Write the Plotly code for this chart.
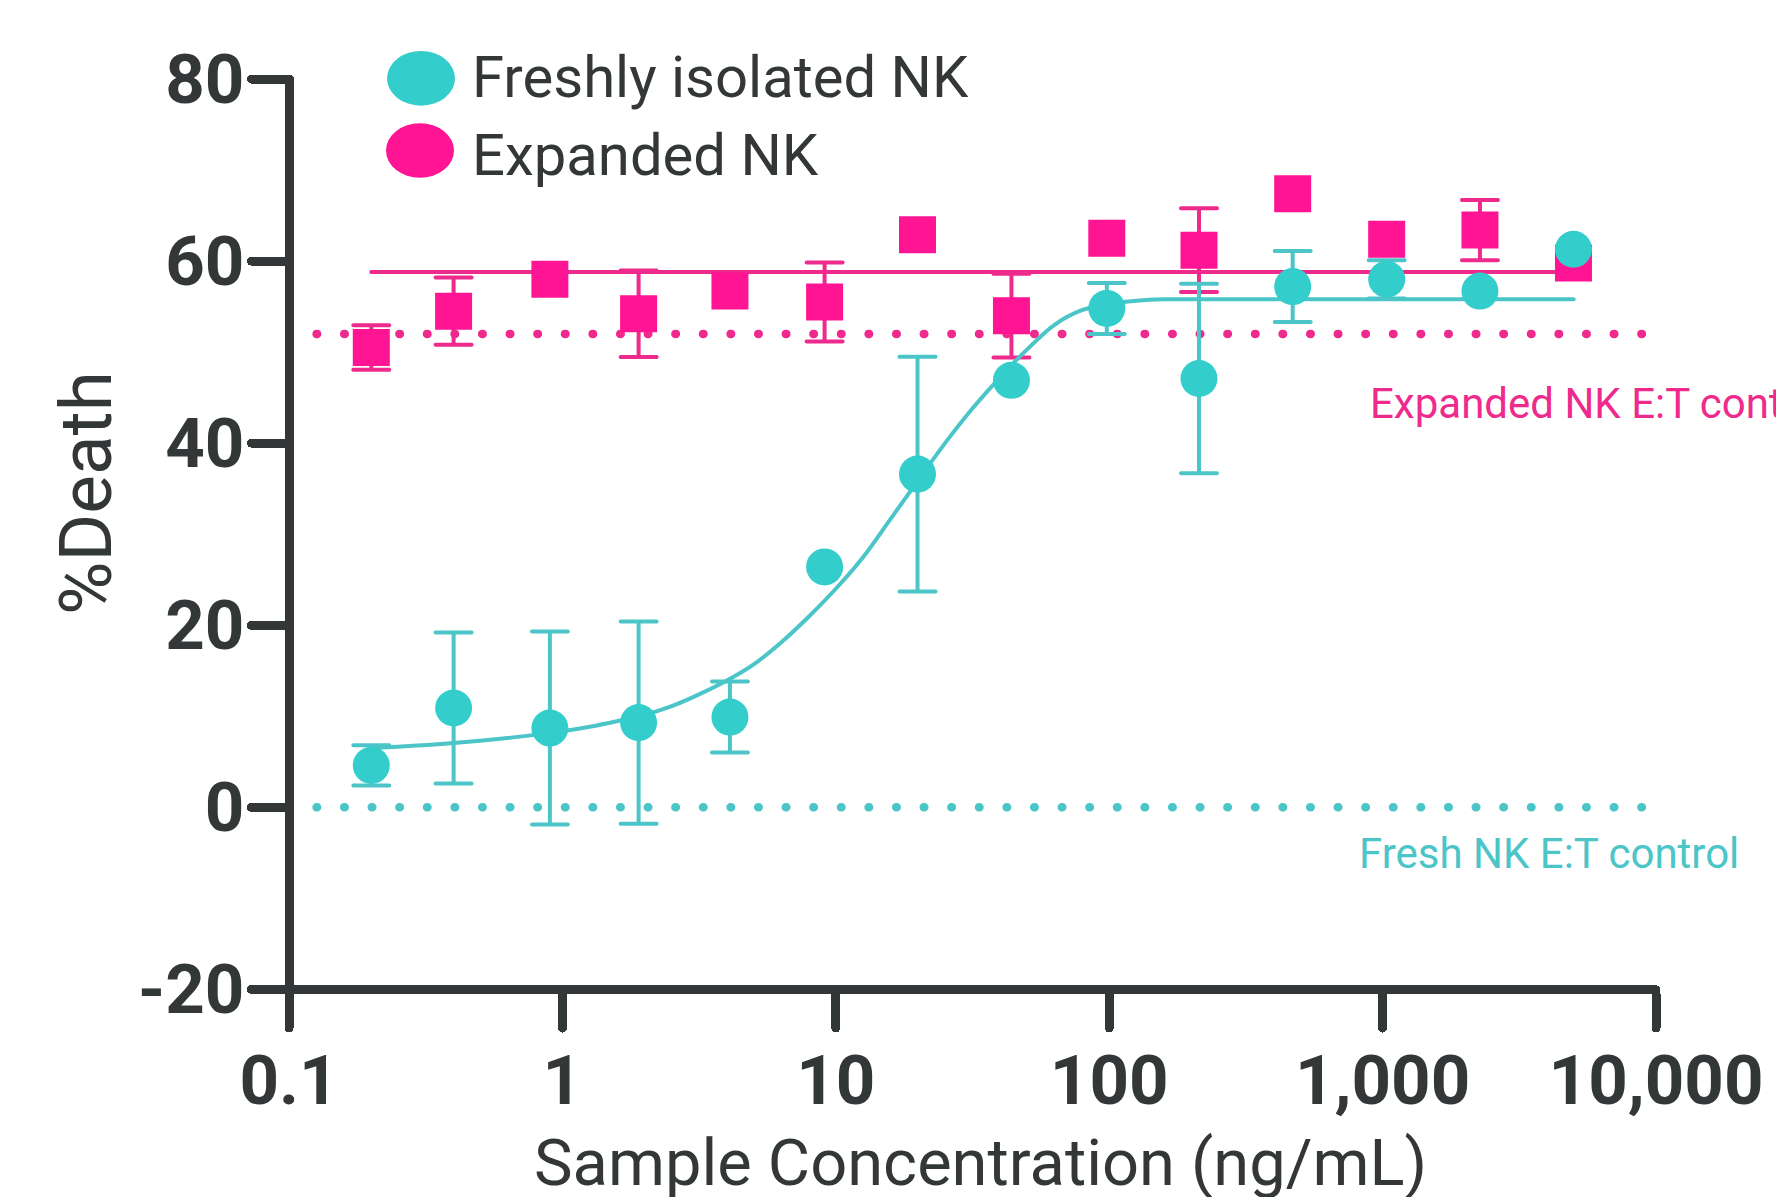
import plotly.graph_objects as go

W, H = 1776, 1197

# ---------------- data ----------------
conc = [0.2, 0.4, 0.9, 1.9, 4.1, 9.1, 19.9, 43.9, 98, 213, 469, 1035, 2270, 4990]

fresh_y = [4.6, 10.9, 8.7, 9.3, 9.9, 26.4, 36.6, 46.9, 54.8, 47.1, 57.2, 58.0, 56.7, 61.3]
fresh_err = [2.2, 8.3, 10.6, 11.1, 3.9, None, 12.9, None, 2.8, 10.4, 3.9, 2.1, None, None]

exp_y = [50.5, 54.5, 58.0, 54.2, 56.7, 55.5, 62.9, 54.0, 62.5, 61.2, 67.4, 62.4, 63.4, 59.8]
exp_err = [2.45, 3.7, None, 4.75, None, 4.35, None, 4.6, None, 4.6, None, None, 3.3, None]

# fitted curve of freshly isolated NK
fresh_fit_x = [0.2, 0.25, 0.32, 0.4, 0.5, 0.63, 0.79, 1, 1.26, 1.58, 2, 2.51, 3.16,
               3.98, 5.01, 6.31, 7.94, 10, 12.6, 15.8, 20, 25.1, 31.6, 39.8, 50.1,
               63.1, 79.4, 100, 126, 158, 251, 5000]
fresh_fit_y = [6.5, 6.65, 6.85, 7.05, 7.3, 7.6, 7.95, 8.35, 8.85, 9.45, 10.15, 11.1, 12.4,
               13.9, 15.7, 18.1, 20.9, 24.0, 27.5, 31.6, 35.9, 40.0, 43.8, 47.2, 50.3,
               53.0, 54.6, 55.3, 55.65, 55.8, 55.8, 55.8]

# fitted (flat) line of expanded NK
exp_fit_x = [0.2, 5000]
exp_fit_y = [58.8, 58.8]

# E:T control reference levels
ctrl_x = [0.1, 9000]
exp_ctrl = 52.0
fresh_ctrl = 0.0

x_tickvals = [0.1, 1, 10, 100, 1000, 10000]
x_ticktext = ["0.1", "1", "10", "100", "1,000", "10,000"]
y_tickvals = [-20, 0, 20, 40, 60, 80]
y_ticktext = ["-20", "0", "20", "40", "60", "80"]

series_names = ["Freshly isolated NK", "Expanded NK"]
ctrl_labels = ["Expanded NK E:T control", "Fresh NK E:T control"]

# ---------------- styles ----------------
DARK = "#333738"
CYAN_M = "#33CDCC"
CYAN_L = "#4BC5C8"
PINK_M = "#FF1493"
PINK_L = "#EE2A8C"
MS = 37
ERR_T = 4
ERR_W = 18
DOT = "0.5px,27.1px"
AXLW = 8.5
TICKLEN = 34

X_LEFT, X_RIGHT = 289, 1656   # pixel positions of 0.1 and 10,000
Y_BOT, Y_TOP = 989.3, 79      # pixel positions of -20 and 80


def with_err(xs, ys, errs):
    idx = [i for i, e in enumerate(errs) if e is not None]
    return [xs[i] for i in idx], [ys[i] for i in idx], [errs[i] for i in idx]


fig = go.Figure()

# control dotted lines
fig.add_trace(go.Scatter(x=ctrl_x, y=[exp_ctrl, exp_ctrl], mode="lines",
                         line=dict(color=PINK_L, width=8.5, dash=DOT), hoverinfo="skip"))
fig.add_trace(go.Scatter(x=ctrl_x, y=[fresh_ctrl, fresh_ctrl], mode="lines",
                         line=dict(color=CYAN_L, width=8.5, dash=DOT), hoverinfo="skip"))

# expanded NK
fig.add_trace(go.Scatter(x=exp_fit_x, y=exp_fit_y, mode="lines",
                         line=dict(color=PINK_L, width=4)))
ex, ey, ee = with_err(conc, exp_y, exp_err)
fig.add_trace(go.Scatter(x=ex, y=ey, mode="markers", marker=dict(size=MS, opacity=0),
                         error_y=dict(type="data", array=ee, visible=True,
                                      color=PINK_L, thickness=ERR_T, width=ERR_W)))
fig.add_trace(go.Scatter(x=conc, y=exp_y, mode="markers", name=series_names[1],
                         marker=dict(symbol="square", size=MS, color=PINK_M,
                                     line=dict(width=0))))

# freshly isolated NK
fig.add_trace(go.Scatter(x=fresh_fit_x, y=fresh_fit_y, mode="lines",
                         line=dict(color=CYAN_L, width=4, shape="spline", smoothing=1)))
fx, fy, fe = with_err(conc, fresh_y, fresh_err)
fig.add_trace(go.Scatter(x=fx, y=fy, mode="markers", marker=dict(size=MS, opacity=0),
                         error_y=dict(type="data", array=fe, visible=True,
                                      color=CYAN_L, thickness=ERR_T, width=ERR_W)))
fig.add_trace(go.Scatter(x=conc, y=fresh_y, mode="markers", name=series_names[0],
                         marker=dict(symbol="circle", size=MS, color=CYAN_M,
                                     line=dict(width=0))))

fig.update_layout(
    width=W, height=H, margin=dict(l=0, r=0, t=0, b=0),
    paper_bgcolor="white", plot_bgcolor="white", showlegend=False,
    font=dict(family="Roboto", color=DARK),
)
fig.update_xaxes(
    type="log", range=[-1, 4], domain=[X_LEFT / W, X_RIGHT / W], automargin=False,
    anchor="free", position=1 - Y_BOT / H,
    showline=True, linewidth=AXLW, linecolor=DARK,
    ticks="outside", ticklen=TICKLEN, tickwidth=AXLW, tickcolor=DARK,
    tickvals=x_tickvals, ticktext=x_ticktext,
    tickfont=dict(family="Roboto", size=69, weight="bold", color=DARK),
    ticklabelstandoff=-7, showgrid=False, zeroline=False,
)
fig.update_yaxes(
    range=[-20, 80], domain=[1 - Y_BOT / H, 1 - Y_TOP / H], automargin=False,
    anchor="free", position=X_LEFT / W,
    showline=True, linewidth=AXLW, linecolor=DARK,
    ticks="outside", ticklen=TICKLEN, tickwidth=AXLW, tickcolor=DARK,
    tickvals=y_tickvals, ticktext=y_ticktext,
    tickfont=dict(family="Roboto", size=69, weight="bold", color=DARK),
    ticklabelstandoff=-7, showgrid=False, zeroline=False,
)

# legend drawn by hand (ellipse symbols)
fig.add_shape(type="circle", xref="paper", yref="paper",
              x0=387 / W, x1=455 / W, y0=1 - 105.7 / H, y1=1 - 51 / H,
              fillcolor=CYAN_M, line=dict(width=0))
fig.add_shape(type="circle", xref="paper", yref="paper",
              x0=386 / W, x1=454 / W, y0=1 - 177.7 / H, y1=1 - 123.3 / H,
              fillcolor=PINK_M, line=dict(width=0))

ann = dict(xref="paper", yref="paper", showarrow=False, borderpad=0, borderwidth=0)
fig.add_annotation(text=series_names[0], x=472 / W, y=1 - 76.9 / H, xanchor="left",
                   yanchor="middle", font=dict(family="Roboto", size=58, color=DARK), **ann)
fig.add_annotation(text=series_names[1], x=472 / W, y=1 - 155.5 / H, xanchor="left",
                   yanchor="middle", font=dict(family="Roboto", size=58, color=DARK), **ann)

fig.add_annotation(text=ctrl_labels[0], x=1370 / W, y=1 - 403.3 / H, xanchor="left",
                   yanchor="middle", font=dict(family="Roboto", size=42, color=PINK_L), **ann)
fig.add_annotation(text=ctrl_labels[1], x=1359 / W, y=1 - 853 / H, xanchor="left",
                   yanchor="middle", font=dict(family="Roboto", size=42, color=CYAN_L), **ann)

# axis titles
fig.add_annotation(text="Sample Concentration (ng/mL)", x=980.5 / W, y=1 - 1163.3 / H,
                   xanchor="center", yanchor="middle",
                   font=dict(family="Roboto", size=65, color=DARK), **ann)
fig.add_annotation(text="%Death", x=86.7 / W, y=1 - 493.3 / H, textangle=-90,
                   xanchor="center", yanchor="middle",
                   font=dict(family="Roboto", size=73, color=DARK), **ann)

post = """
document.body.style.margin = '0';
var gd = document.getElementById('{plot_id}');
gd.querySelectorAll('path').forEach(function(p){ p.style.strokeLinecap = 'round'; });
"""

fig.write_html("out.html", config={"displayModeBar": False}, post_script=post)
